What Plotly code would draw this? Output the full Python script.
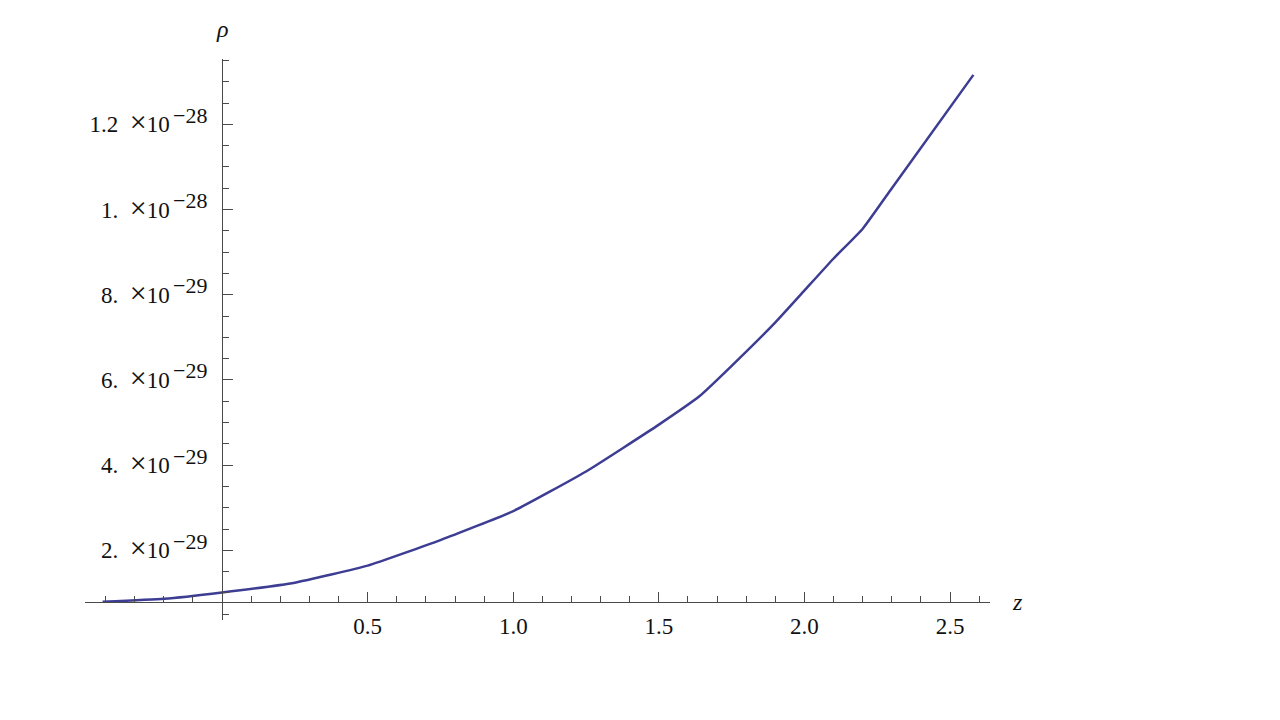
import plotly.graph_objects as go

# redshift z and density rho
z = [-0.41, -0.2, 0.0, 0.25, 0.5, 0.75, 1.0, 1.25, 1.5, 1.64, 1.75, 1.9, 2.0, 2.1, 2.2, 2.3, 2.58]
rho = [0.79e-29, 0.86e-29, 1.01e-29, 1.24e-29, 1.64e-29, 2.24e-29, 2.92e-29, 3.85e-29,
       4.95e-29, 5.62e-29, 6.33e-29, 7.35e-29, 8.1e-29, 8.85e-29, 9.55e-29, 10.5e-29, 13.16e-29]

x_tickvals = [0.5, 1.0, 1.5, 2.0, 2.5]
x_ticktext = ["0.5", "1.0", "1.5", "2.0", "2.5"]
y_tickvals = [2e-29, 4e-29, 6e-29, 8e-29, 1e-28, 1.2e-28]
y_mant = ["2.", "4.", "6.", "8.", "1.", "1.2"]
y_exp = ["\u221229", "\u221229", "\u221229", "\u221229", "\u221228", "\u221228"]

x_range = [-0.4705, 2.637]
y_range = [0.364e-29, 13.533e-29]
x_cross = 7.86e-30  # where the z axis crosses the rho axis

axis_col = "#4a4a4a"
font = dict(family="Liberation Serif", size=23, color="#111")

y_ticktext = [m + "\u2002<span style='font-size:30px'>\u00d7</span>10<sup>\u2009"
              "<span style='font-size:22px'>" + e + "</span></sup>"
              for m, e in zip(y_mant, y_exp)]

fig = go.Figure(go.Scatter(x=z, y=rho, mode="lines",
                           line=dict(color="#3d3d93", width=2.5,
                                     shape="spline", smoothing=0.4)))

# page body adds 8px around the figure, so the figure is 16px smaller
fig.update_layout(
    width=1264, height=704,
    plot_bgcolor="white", paper_bgcolor="white",
    margin=dict(l=77, r=282, t=51, b=92),
    showlegend=False,
    font=font,
    xaxis=dict(
        range=x_range, showgrid=False, zeroline=False,
        showline=True, linecolor=axis_col, linewidth=1,
        anchor="free",
        position=(x_cross - y_range[0]) / (y_range[1] - y_range[0]),
        tickmode="array", tickvals=x_tickvals, ticktext=x_ticktext,
        ticks="inside", ticklen=10, tickcolor=axis_col, tickwidth=1,
        minor=dict(dtick=0.1, tick0=0, ticks="inside", ticklen=6,
                   tickcolor=axis_col, tickwidth=1, showgrid=False),
        tickfont=font, ticklabelstandoff=3, automargin=False,
    ),
    yaxis=dict(
        range=y_range, showgrid=False, zeroline=False,
        showline=True, linecolor=axis_col, linewidth=1,
        anchor="free",
        position=(0 - x_range[0]) / (x_range[1] - x_range[0]),
        tickmode="array", tickvals=y_tickvals, ticktext=y_ticktext,
        ticks="inside", ticklen=10, tickcolor=axis_col, tickwidth=1,
        minor=dict(dtick=0.5e-29, tick0=0, ticks="inside", ticklen=6,
                   tickcolor=axis_col, tickwidth=1, showgrid=False),
        tickfont=font, ticklabelstandoff=10, automargin=False,
    ),
    annotations=[
        dict(text="<i>\u03c1</i>", x=0, y=1.0, xref="x", yref="paper",
             yshift=30, xanchor="center", yanchor="middle", showarrow=False,
             font=dict(family="Liberation Serif", size=24, color="#111")),
        dict(text="<i>z</i>", x=1.0, y=x_cross, xref="paper", yref="y",
             xshift=27, xanchor="center", yanchor="middle", showarrow=False,
             font=dict(family="Liberation Serif", size=24, color="#111")),
    ],
)

fig.write_html("out.html")
